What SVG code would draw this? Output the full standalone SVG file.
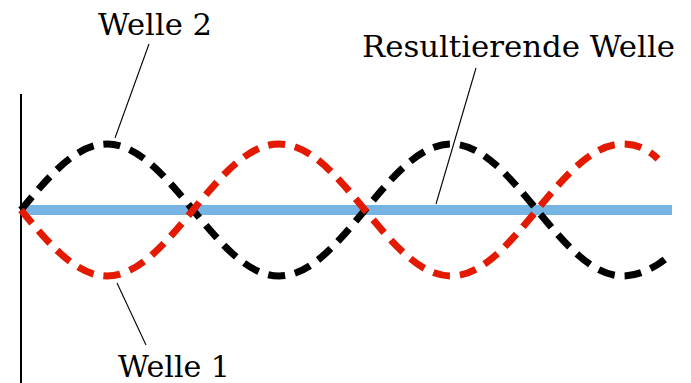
<svg xmlns="http://www.w3.org/2000/svg" width="691" height="383" viewBox="0 0 691 383">
<style>
.wave{fill:none;stroke-width:7;stroke-dasharray:17 10}
.lbl{font-family:"DejaVu Serif",serif;font-size:30px;fill:#000}
.lead{stroke:#000;stroke-width:1.1;fill:none}
</style>
<rect width="691" height="383" fill="#fff"/>
<g id="axis"><line x1="21" y1="94" x2="21" y2="383" stroke="#000" stroke-width="2"/></g>
<g id="resultierende-welle"><line x1="21" y1="210" x2="672" y2="210" stroke="#75b4e3" stroke-width="10"/></g>
<g id="welle-2"><path class="wave" stroke="#000" d="M21,210 C49.05,176.19 75.88,144 107,144 C138.12,144 164.95,176.19 193,210 C221.05,243.81 247.88,276 279,276 C310.12,276 336.95,243.81 365,210 C393.05,176.19 419.88,144 451,144 C482.12,144 508.95,176.19 537,210 C565.05,243.81 591.88,276 623,276 C638,276 656,268 670,255"/></g>
<g id="welle-1"><path class="wave" stroke="#e31a00" d="M21,210 C49.05,243.81 75.88,276 107,276 C138.12,276 164.95,243.81 193,210 C221.05,176.19 247.88,144 279,144 C310.12,144 336.95,176.19 365,210 C393.05,243.81 419.88,276 451,276 C482.12,276 508.95,243.81 537,210 C565.05,176.19 591.88,144 623,144 C636,144 648,149 658,159"/></g>
<g id="connectors">
<line class="lead" x1="115" y1="138" x2="149" y2="44"/>
<line class="lead" x1="476" y1="68" x2="436" y2="204"/>
<line class="lead" x1="117" y1="283" x2="146" y2="345"/>
</g>
<g id="labels">
<text class="lbl" x="98" y="35" textLength="114" lengthAdjust="spacingAndGlyphs">Welle 2</text>
<text class="lbl" x="362" y="57" textLength="313" lengthAdjust="spacingAndGlyphs">Resultierende Welle</text>
<text class="lbl" x="118" y="377" textLength="112" lengthAdjust="spacingAndGlyphs">Welle 1</text>
</g>
</svg>
